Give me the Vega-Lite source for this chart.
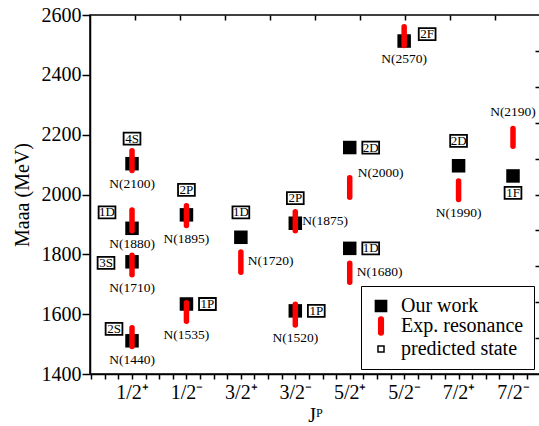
{
  "$schema": "https://vega.github.io/schema/vega-lite/v6.json",
  "width": 450,
  "height": 359,
  "autosize": {"type": "none"},
  "padding": {"left": 90, "top": 15, "right": 0, "bottom": 52},
  "background": "white",
  "config": {
    "font": "Liberation Serif",
    "view": {"stroke": "black", "strokeWidth": 1.5},
    "axis": {
      "domainColor": "black", "domainWidth": 1.5, "tickColor": "black", "tickWidth": 1.5,
      "labelColor": "black", "titleColor": "black", "labelFont": "Liberation Serif", "titleFont": "Liberation Serif",
      "grid": false, "labelFontSize": 20, "titleFontSize": 20, "titleFontWeight": "normal"
    },
    "text": {"font": "Liberation Serif", "color": "black"}
  },
  "datasets": {
    "work": [
      {"jp": 1, "m": 2103, "state": "4S", "side": "up", "kind": "Our work"},
      {"jp": 1, "m": 1887, "state": "1D", "side": "upper left", "kind": "Our work"},
      {"jp": 1, "m": 1775, "state": "3S", "side": "left", "kind": "Our work"},
      {"jp": 1, "m": 1511, "state": "2S", "side": "upper left near", "kind": "Our work"},
      {"jp": 2, "m": 1932, "state": "2P", "side": "up", "kind": "Our work"},
      {"jp": 2, "m": 1634, "state": "1P", "side": "right", "kind": "Our work"},
      {"jp": 3, "m": 1857, "state": "1D", "side": "up", "kind": "Our work"},
      {"jp": 4, "m": 1904, "state": "2P", "side": "up", "kind": "Our work"},
      {"jp": 4, "m": 1611, "state": "1P", "side": "right", "kind": "Our work"},
      {"jp": 5, "m": 2157, "state": "2D", "side": "right", "kind": "Our work"},
      {"jp": 5, "m": 1820, "state": "1D", "side": "right", "kind": "Our work"},
      {"jp": 6, "m": 2513, "state": "2F", "side": "upper right", "kind": "Our work"},
      {"jp": 7, "m": 2096, "state": "2D", "side": "up", "kind": "Our work"},
      {"jp": 8, "m": 2062, "state": "1F", "side": "down", "kind": "Our work"}
    ],
    "exp": [
      {"jp": 1, "hi": 2146, "lo": 2080, "name": "N(2100)", "side": "below", "kind": "Exp. resonance"},
      {"jp": 1, "hi": 1948, "lo": 1879, "name": "N(1880)", "side": "below", "kind": "Exp. resonance"},
      {"jp": 1, "hi": 1797, "lo": 1732, "name": "N(1710)", "side": "below", "kind": "Exp. resonance"},
      {"jp": 1, "hi": 1555, "lo": 1492, "name": "N(1440)", "side": "below", "kind": "Exp. resonance"},
      {"jp": 2, "hi": 1962, "lo": 1896, "name": "N(1895)", "side": "below", "kind": "Exp. resonance"},
      {"jp": 2, "hi": 1638, "lo": 1576, "name": "N(1535)", "side": "below", "kind": "Exp. resonance"},
      {"jp": 3, "hi": 1808, "lo": 1740, "name": "N(1720)", "side": "right", "kind": "Exp. resonance"},
      {"jp": 4, "hi": 1942, "lo": 1879, "name": "N(1875)", "side": "right", "kind": "Exp. resonance"},
      {"jp": 4, "hi": 1633, "lo": 1564, "name": "N(1520)", "side": "below", "kind": "Exp. resonance"},
      {"jp": 5, "hi": 2056, "lo": 1991, "name": "N(2000)", "side": "upper right", "kind": "Exp. resonance"},
      {"jp": 5, "hi": 1770, "lo": 1707, "name": "N(1680)", "side": "right", "kind": "Exp. resonance"},
      {"jp": 6, "hi": 2561, "lo": 2498, "name": "N(2570)", "side": "below", "kind": "Exp. resonance"},
      {"jp": 7, "hi": 2045, "lo": 1983, "name": "N(1990)", "side": "below", "kind": "Exp. resonance"},
      {"jp": 8, "hi": 2221, "lo": 2161, "name": "N(2190)", "side": "above", "kind": "Exp. resonance"}
    ],
    "frame": [{"t": 0}, {"t": 10}]
  },
  "resolve": {"scale": {"x": "independent", "y": "independent"}},
  "layer": [
    {
      "encoding": {
        "x": {
          "field": "jp", "type": "quantitative",
          "scale": {"domain": [0.228, 8.496], "nice": false, "zero": false},
          "axis": {
            "values": [0.25,0.5,0.75,1,1.25,1.5,1.75,2,2.25,2.5,2.75,3,3.25,3.5,3.75,4,4.25,4.5,4.75,5,5.25,5.5,5.75,6,6.25,6.5,6.75,7,7.25,7.5,7.75,8,8.25],
            "labelExpr": "datum.value % 1 === 0 ? ['1/2⁺','1/2⁻','3/2⁺','3/2⁻','5/2⁺','5/2⁻','7/2⁺','7/2⁻'][datum.value - 1] : ''",
            "labelOverlap": false, "labelFlush": false, "tickSize": 5, "labelPadding": 3,
            "title": "Jᴾ", "titlePadding": 3
          }
        }
      },
      "layer": [
        {
          "data": {"name": "work"},
          "mark": {"type": "point", "filled": true, "size": 285, "opacity": 1, "strokeWidth": 0},
          "encoding": {
            "y": {
              "field": "m", "type": "quantitative", "title": "Maaa (MeV)",
              "scale": {"domain": [1400, 2600], "nice": false, "zero": false},
              "axis": {
                "values": [1400,1500,1600,1700,1800,1900,2000,2100,2200,2300,2400,2500,2600],
                "format": "d",
                "labelExpr": "datum.value % 200 === 0 ? datum.label : ''",
                "tickSize": {"condition": {"test": "datum.value % 200 === 0", "value": 8}, "value": 4},
                "labelPadding": 1, "labelOverlap": false, "labelFlush": false, "titlePadding": 9
              }
            },
            "fill": {
              "field": "kind", "type": "nominal",
              "scale": {"domain": ["Our work", "Exp. resonance", "predicted state"], "range": ["black", "red", "white"]},
              "legend": {"title": null, "orient": "none", "legendX": 271, "legendY": 271, "padding": 10, "labelOffset": 10, "rowPadding": -5, "labelFontSize": 20, "labelFont": "Liberation Serif", "labelColor": "black", "strokeColor": "black", "fillColor": "white", "symbolSize": 196, "symbolStrokeWidth": 1.5, "labelLimit": 0, "symbolOpacity": 1}
            },
            "shape": {
              "field": "kind", "type": "nominal",
              "scale": {"domain": ["Our work", "Exp. resonance", "predicted state"], "range": ["M-0.8,-0.8H0.8V0.8H-0.8Z", "M-0.33,-0.96A0.33,0.33 0 0 1 0.33,-0.96L0.33,0.96A0.33,0.33 0 0 1 -0.33,0.96Z", "M-0.43,-0.43H0.43V0.43H-0.43Z"]},
              "legend": {"title": null, "orient": "none", "legendX": 271, "legendY": 271, "padding": 10, "labelOffset": 10, "rowPadding": -5, "labelFontSize": 20, "labelFont": "Liberation Serif", "labelColor": "black", "strokeColor": "black", "fillColor": "white", "symbolSize": 196, "symbolStrokeWidth": 1.5, "labelLimit": 0, "symbolOpacity": 1}
            }
          }
        },
        {
          "data": {"name": "exp"},
          "mark": {"type": "rule", "strokeWidth": 5.5, "strokeCap": "round"},
          "encoding": {
            "y": {"field": "hi", "type": "quantitative", "title": "Maaa (MeV)"},
            "y2": {"field": "lo"},
            "stroke": {
              "field": "kind", "type": "nominal",
              "scale": {"domain": ["Our work", "Exp. resonance", "predicted state"], "range": ["black", "red", "black"]},
              "legend": {"title": null, "orient": "none", "legendX": 271, "legendY": 271, "padding": 10, "labelOffset": 10, "rowPadding": -5, "labelFontSize": 20, "labelFont": "Liberation Serif", "labelColor": "black", "strokeColor": "black", "fillColor": "white", "symbolSize": 196, "symbolStrokeWidth": 1.5, "labelLimit": 0, "symbolOpacity": 1}
            }
          }
        },
        {
          "data": {"name": "exp"},
          "transform": [{"filter": "datum.side === 'below'"}],
          "mark": {"type": "text", "fontSize": 13.5, "align": "center", "baseline": "middle", "yOffset": 13.5},
          "encoding": {"y": {"field": "lo", "type": "quantitative", "title": "Maaa (MeV)"}, "text": {"field": "name"}}
        },
        {
          "data": {"name": "exp"},
          "transform": [{"filter": "datum.side === 'right'"}],
          "mark": {"type": "text", "fontSize": 13.5, "align": "left", "baseline": "middle", "xOffset": 7, "yOffset": 9},
          "encoding": {"y": {"field": "hi", "type": "quantitative", "title": "Maaa (MeV)"}, "text": {"field": "name"}}
        },
        {
          "data": {"name": "exp"},
          "transform": [{"filter": "datum.side === 'upper right'"}],
          "mark": {"type": "text", "fontSize": 13.5, "align": "left", "baseline": "middle", "xOffset": 8, "yOffset": -5},
          "encoding": {"y": {"field": "hi", "type": "quantitative", "title": "Maaa (MeV)"}, "text": {"field": "name"}}
        },
        {
          "data": {"name": "exp"},
          "transform": [{"filter": "datum.side === 'above'"}],
          "mark": {"type": "text", "fontSize": 13.5, "align": "center", "baseline": "middle", "yOffset": -16.5},
          "encoding": {"y": {"field": "hi", "type": "quantitative", "title": "Maaa (MeV)"}, "text": {"field": "name"}}
        },
        {
          "data": {"name": "work"},
          "transform": [{"filter": "datum.side === 'up'"}],
          "encoding": {"y": {"field": "m", "type": "quantitative", "title": "Maaa (MeV)"}},
          "layer": [
            {"mark": {"type": "point", "shape": "M-1.4,-1H1.4V1H-1.4Z", "size": 144, "filled": true, "fill": "white", "stroke": "black", "strokeWidth": 1.8, "opacity": 1, "yOffset": -25}},
            {"mark": {"type": "text", "fontSize": 13, "align": "center", "baseline": "middle", "yOffset": -25}, "encoding": {"text": {"field": "state"}}}
          ]
        },
        {
          "data": {"name": "work"},
          "transform": [{"filter": "datum.side === 'down'"}],
          "encoding": {"y": {"field": "m", "type": "quantitative", "title": "Maaa (MeV)"}},
          "layer": [
            {"mark": {"type": "point", "shape": "M-1.4,-1H1.4V1H-1.4Z", "size": 144, "filled": true, "fill": "white", "stroke": "black", "strokeWidth": 1.8, "opacity": 1, "yOffset": 17}},
            {"mark": {"type": "text", "fontSize": 13, "align": "center", "baseline": "middle", "yOffset": 17}, "encoding": {"text": {"field": "state"}}}
          ]
        },
        {
          "data": {"name": "work"},
          "transform": [{"filter": "datum.side === 'right'"}],
          "encoding": {"y": {"field": "m", "type": "quantitative", "title": "Maaa (MeV)"}},
          "layer": [
            {"mark": {"type": "point", "shape": "M-1.4,-1H1.4V1H-1.4Z", "size": 144, "filled": true, "fill": "white", "stroke": "black", "strokeWidth": 1.8, "opacity": 1, "xOffset": 21}},
            {"mark": {"type": "text", "fontSize": 13, "align": "center", "baseline": "middle", "xOffset": 21}, "encoding": {"text": {"field": "state"}}}
          ]
        },
        {
          "data": {"name": "work"},
          "transform": [{"filter": "datum.side === 'upper right'"}],
          "encoding": {"y": {"field": "m", "type": "quantitative", "title": "Maaa (MeV)"}},
          "layer": [
            {"mark": {"type": "point", "shape": "M-1.4,-1H1.4V1H-1.4Z", "size": 144, "filled": true, "fill": "white", "stroke": "black", "strokeWidth": 1.8, "opacity": 1, "xOffset": 23, "yOffset": -7}},
            {"mark": {"type": "text", "fontSize": 13, "align": "center", "baseline": "middle", "xOffset": 23, "yOffset": -7}, "encoding": {"text": {"field": "state"}}}
          ]
        },
        {
          "data": {"name": "work"},
          "transform": [{"filter": "datum.side === 'left'"}],
          "encoding": {"y": {"field": "m", "type": "quantitative", "title": "Maaa (MeV)"}},
          "layer": [
            {"mark": {"type": "point", "shape": "M-1.4,-1H1.4V1H-1.4Z", "size": 144, "filled": true, "fill": "white", "stroke": "black", "strokeWidth": 1.8, "opacity": 1, "xOffset": -26, "yOffset": 1}},
            {"mark": {"type": "text", "fontSize": 13, "align": "center", "baseline": "middle", "xOffset": -26, "yOffset": 1}, "encoding": {"text": {"field": "state"}}}
          ]
        },
        {
          "data": {"name": "work"},
          "transform": [{"filter": "datum.side === 'upper left'"}],
          "encoding": {"y": {"field": "m", "type": "quantitative", "title": "Maaa (MeV)"}},
          "layer": [
            {"mark": {"type": "point", "shape": "M-1.4,-1H1.4V1H-1.4Z", "size": 144, "filled": true, "fill": "white", "stroke": "black", "strokeWidth": 1.8, "opacity": 1, "xOffset": -25, "yOffset": -16}},
            {"mark": {"type": "text", "fontSize": 13, "align": "center", "baseline": "middle", "xOffset": -25, "yOffset": -16}, "encoding": {"text": {"field": "state"}}}
          ]
        },
        {
          "data": {"name": "work"},
          "transform": [{"filter": "datum.side === 'upper left near'"}],
          "encoding": {"y": {"field": "m", "type": "quantitative", "title": "Maaa (MeV)"}},
          "layer": [
            {"mark": {"type": "point", "shape": "M-1.4,-1H1.4V1H-1.4Z", "size": 144, "filled": true, "fill": "white", "stroke": "black", "strokeWidth": 1.8, "opacity": 1, "xOffset": -18, "yOffset": -12}},
            {"mark": {"type": "text", "fontSize": 13, "align": "center", "baseline": "middle", "xOffset": -18, "yOffset": -12}, "encoding": {"text": {"field": "state"}}}
          ]
        }
      ]
    },
    {
      "data": {"name": "frame"},
      "mark": {"type": "point", "opacity": 0},
      "encoding": {
        "x": {"field": "t", "type": "quantitative", "scale": {"domain": [0, 10], "nice": false, "zero": false}, "axis": {"orient": "top", "values": [1,2,3,4,5,6,7,8,9], "labels": false, "tickSize": -5, "domain": false, "title": null}},
        "y": {"field": "t", "type": "quantitative", "scale": {"domain": [0, 10], "nice": false, "zero": false}, "axis": {"orient": "right", "values": [1,2,3,4,5,6,7,8,9], "labels": false, "tickSize": -5, "domain": false, "title": null}}
      }
    }
  ]
}
